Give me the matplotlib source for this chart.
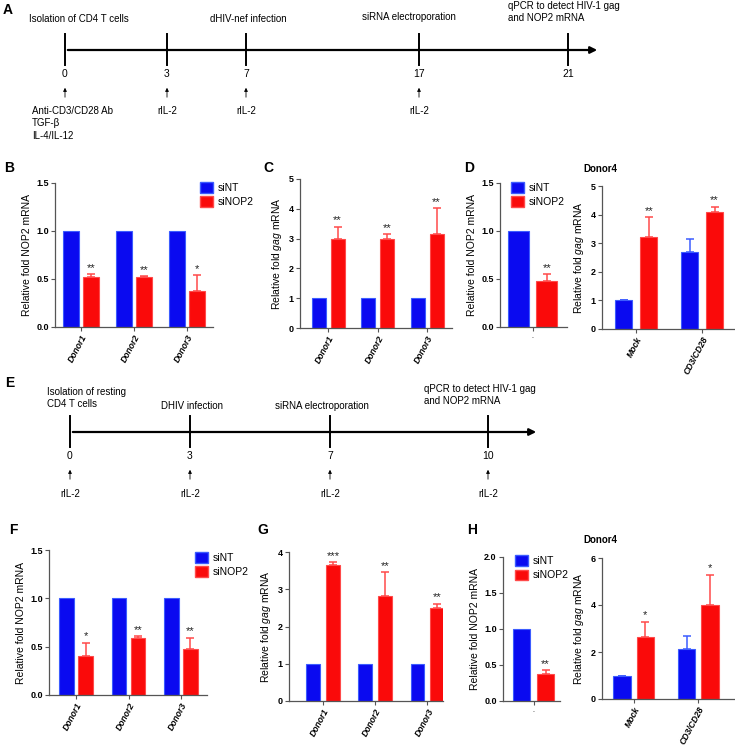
import numpy as np
import matplotlib
matplotlib.use('Agg')
import matplotlib.pyplot as plt
from matplotlib.patches import Patch

plt.rcParams['font.family'] = ['Liberation Sans', 'DejaVu Sans']
plt.rcParams['mathtext.fontset'] = 'custom'
plt.rcParams['mathtext.rm'] = 'Liberation Sans'
plt.rcParams['mathtext.it'] = 'Liberation Sans:italic'

W, H = 735, 747
BLUE, BLUE_E = '#0a0af0', '#3c5cff'
RED, RED_E = '#fa0a0a', '#ff4a4a'

# ---- data ----
donors = ['Donor1', 'Donor2', 'Donor3']
stim = ['Mock', 'CD3/CD28']

b_sint = [1.0, 1.0, 1.0]
b_sinop2 = [0.52, 0.52, 0.38]
b_err = [0.03, 0.01, 0.16]
b_stars = ['**', '**', '*']

c_sint = [1.0, 1.0, 1.0]
c_sinop2 = [3.0, 2.98, 3.15]
c_err = [0.40, 0.17, 0.87]
c_stars = ['**', '**', '**']

d_sint = [1.0]
d_sinop2 = [0.48]
d_err = [0.07]
d_stars = ['**']

d4_sint = [1.0, 2.7]
d4_sint_err = [0.0, 0.45]
d4_sinop2 = [3.22, 4.1]
d4_err = [0.68, 0.17]
d4_stars = ['**', '**']

f_sint = [1.0, 1.0, 1.0]
f_sinop2 = [0.40, 0.59, 0.48]
f_err = [0.14, 0.02, 0.11]
f_stars = ['*', '**', '**']

g_sint = [1.0, 1.0, 1.0]
g_sinop2 = [3.65, 2.82, 2.5]
g_err = [0.08, 0.63, 0.11]
g_stars = ['***', '**', '**']

h_sint = [1.0]
h_sinop2 = [0.38]
h_err = [0.05]
h_stars = ['**']

h4_sint = [1.0, 2.12]
h4_sint_err = [0.0, 0.56]
h4_sinop2 = [2.65, 3.98]
h4_err = [0.63, 1.30]
h4_stars = ['*', '*']

# timelines
a_days = ['0', '3', '7', '17', '21']
a_events = ['Isolation of CD4 T cells', 'dHIV-nef infection', 'siRNA electroporation',
            'qPCR to detect HIV-1 gag\nand NOP2 mRNA']
a_below = ['Anti-CD3/CD28 Ab\nTGF-\u03b2\nIL-4/IL-12', 'rIL-2', 'rIL-2', 'rIL-2']
e_days = ['0', '3', '7', '10']
e_events = ['Isolation of resting\nCD4 T cells', 'DHIV infection', 'siRNA electroporation',
            'qPCR to detect HIV-1 gag\nand NOP2 mRNA']
e_below = ['rIL-2', 'rIL-2', 'rIL-2', 'rIL-2']

fig = plt.figure(figsize=(W / 100, H / 100), dpi=100)

# overlay in pixel coordinates for timelines and panel letters
ov = fig.add_axes([0, 0, 1, 1])
ov.set_xlim(0, W)
ov.set_ylim(H, 0)
ov.axis('off')


def timeline(xs, y, x_end, days, events, ev_pos, below, below_pos, below_y):
    ov.annotate('', xy=(x_end, y), xytext=(xs[0], y),
                arrowprops=dict(arrowstyle='-|>', lw=1.6, color='black', mutation_scale=10))
    for x, d in zip(xs, days):
        ov.plot([x, x], [y - 16, y + 15], color='black', lw=1.4)
        ov.text(x, y + 24, d, ha='center', va='center', fontsize=7.5)
    for ev, (ex, ey, ha) in zip(events, ev_pos):
        ov.text(ex, ey, ev, ha=ha, va='top', fontsize=7, linespacing=1.25)
    for i in range(len(below)):
        ov.annotate('', xy=(xs[i], y + 35), xytext=(xs[i], y + 50),
                    arrowprops=dict(arrowstyle='-|>', lw=0.6, color='black', mutation_scale=5))
    for b, (bx, ha) in zip(below, below_pos):
        ov.text(bx, below_y, b, ha=ha, va='top', fontsize=7, linespacing=1.3)


# A
a_x = [65, 167, 246, 419, 568]
timeline(a_x, 50, 600, a_days, a_events,
         [(29, 14, 'left'), (248, 14, 'center'), (409, 12, 'center'), (508, 1, 'left')],
         a_below, [(32, 'left'), (167, 'center'), (246, 'center'), (419, 'center')], 106)
# E
e_x = [70, 190, 330, 488]
timeline(e_x, 432, 539, e_days, e_events,
         [(47, 387, 'left'), (192, 401, 'center'), (322, 401, 'center'), (424, 384, 'left')],
         e_below, [(x, 'center') for x in e_x], 489)

for lab, (lx, ly) in zip('ABCDEFGH', [(3, 3), (4, 161), (263, 161), (464, 161),
                                       (5, 376), (9, 523), (257, 523), (467, 523)]):
    ov.text(lx, ly, lab, ha='left', va='top', fontsize=10, fontweight='bold')
ov.text(600, 169, 'Donor4', ha='center', va='center', fontsize=7, fontweight='bold')
ov.text(600, 540, 'Donor4', ha='center', va='center', fontsize=7, fontweight='bold')


def bar_panel(px, groups, sint, sint_err, sinop2, sinop2_err, stars, xlim, ylim, yticks,
              ylabel, off, width, ticklabels=True, yfmt='{:.1f}'):
    left, top, right, bottom = px
    ax = fig.add_axes([left / W, 1 - bottom / H, (right - left) / W, (bottom - top) / H])
    x = np.arange(len(groups))
    ax.bar(x - off, sint, width, color=BLUE, edgecolor=BLUE_E, lw=0.8, zorder=2)
    ax.bar(x + off, sinop2, width, color=RED, edgecolor=RED_E, lw=0.8, zorder=2)
    if any(e > 0 for e in sint_err):
        ax.errorbar(x - off, sint, yerr=[np.zeros(len(x)), sint_err], fmt='none',
                    ecolor=BLUE_E, elinewidth=1.1, capsize=3, capthick=1.1, zorder=1)
    ax.errorbar(x + off, sinop2, yerr=[np.zeros(len(x)), sinop2_err], fmt='none',
                ecolor=RED_E, elinewidth=1.1, capsize=3, capthick=1.1, zorder=1)
    for xi, v, e, s in zip(x, sinop2, sinop2_err, stars):
        ax.annotate(s, (xi + off, v + e), xytext=(0, 1), textcoords='offset points',
                    ha='center', va='bottom', fontsize=8, color='#222222', annotation_clip=False)
    ax.set_xlim(*xlim)
    ax.set_ylim(*ylim)
    ax.set_yticks(yticks)
    ax.set_yticklabels([yfmt.format(t) for t in yticks], fontsize=6.5, fontweight='bold')
    ax.set_xticks(x)
    if ticklabels:
        ax.set_xticklabels(groups, rotation=62, ha='right', rotation_mode='anchor',
                           fontsize=6.2, fontweight='bold', fontstyle='italic')
    else:
        ax.set_xticklabels(['.'] * len(groups), fontsize=5)
    for s in ['top', 'right']:
        ax.spines[s].set_visible(False)
    for s in ['left', 'bottom']:
        ax.spines[s].set_color('#555555')
        ax.spines[s].set_linewidth(0.9)
    ax.tick_params(axis='both', length=3, width=0.8, color='#555555', pad=1.5)
    ax.set_ylabel(ylabel, fontsize=7.5, labelpad=3)
    ax.set_facecolor('none')
    return ax


def add_legend(ax, x, y):
    handles = [Patch(facecolor=BLUE, edgecolor=BLUE_E), Patch(facecolor=RED, edgecolor=RED_E)]
    ax.legend(handles, ['siNT', 'siNOP2'], loc='upper left', bbox_to_anchor=(x / W, 1 - y / H),
              bbox_transform=fig.transFigure, frameon=False, fontsize=7.5, handlelength=1.2,
              handleheight=1.2, handletextpad=0.5, borderpad=0, borderaxespad=0, labelspacing=0.35)


nop2_lab = 'Relative fold NOP2 mRNA'
gag_lab = 'Relative fold $\\mathit{gag}$ mRNA'

axB = bar_panel((55, 183, 213, 327), donors, b_sint, [0, 0, 0], b_sinop2, b_err, b_stars,
                (-0.49, 2.49), (0, 1.5), [0, 0.5, 1.0, 1.5], nop2_lab, 0.19, 0.29)
add_legend(axB, 200, 182)
bar_panel((300, 179, 452, 328), donors, c_sint, [0, 0, 0], c_sinop2, c_err, c_stars,
          (-0.57, 2.5), (0, 5), [0, 1, 2, 3, 4, 5], gag_lab, 0.19, 0.28, yfmt='{:d}')
axD = bar_panel((500, 183, 567, 327), ['siRNA'], d_sint, [0], d_sinop2, d_err, d_stars,
                (-0.47, 0.49), (0, 1.5), [0, 0.5, 1.0, 1.5], nop2_lab, 0.2, 0.3, ticklabels=False)
add_legend(axD, 511, 182)
bar_panel((602, 186, 735, 329), stim, d4_sint, d4_sint_err, d4_sinop2, d4_err, d4_stars,
          (-0.52, 1.5), (0, 5), [0, 1, 2, 3, 4, 5], gag_lab, 0.19, 0.26, yfmt='{:d}')

axF = bar_panel((49, 550, 207, 695), donors, f_sint, [0, 0, 0], f_sinop2, f_err, f_stars,
                (-0.52, 2.5), (0, 1.5), [0, 0.5, 1.0, 1.5], nop2_lab, 0.18, 0.28)
add_legend(axF, 195, 552)
bar_panel((289, 552, 443, 701), donors, g_sint, [0, 0, 0], g_sinop2, g_err, g_stars,
          (-0.65, 2.3), (0, 4), [0, 1, 2, 3, 4], gag_lab, 0.19, 0.26, yfmt='{:d}')
axH = bar_panel((503, 557, 560, 701), ['siRNA'], h_sint, [0], h_sinop2, h_err, h_stars,
                (-0.51, 0.44), (0, 2), [0, 0.5, 1.0, 1.5, 2.0], nop2_lab, 0.2, 0.28, ticklabels=False)
add_legend(axH, 515, 555)
bar_panel((602, 558, 735, 699), stim, h4_sint, h4_sint_err, h4_sinop2, h4_err, h4_stars,
          (-0.49, 1.57), (0, 6), [0, 2, 4, 6], gag_lab, 0.18, 0.27, yfmt='{:d}')

fig.savefig('out.png', dpi=100)
